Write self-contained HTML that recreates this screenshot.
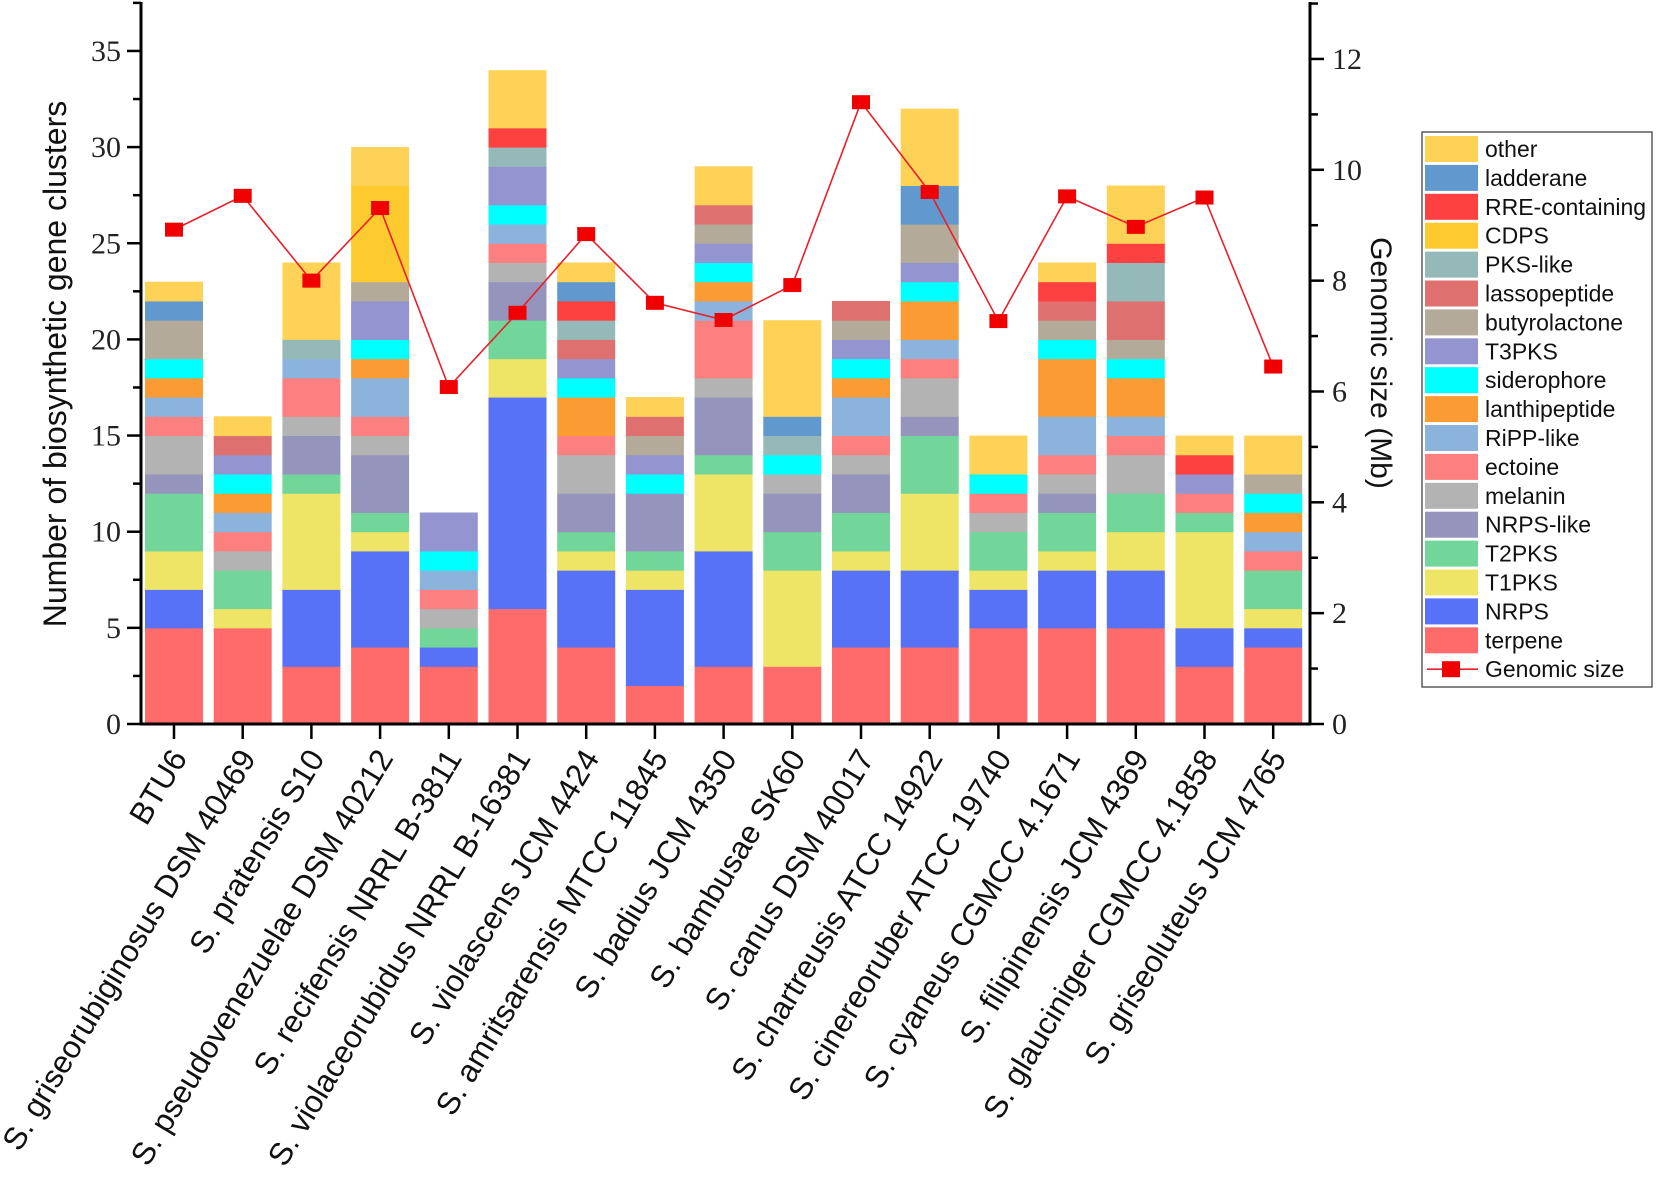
<!DOCTYPE html>
<html><head><meta charset="utf-8"><style>
html,body{margin:0;padding:0;background:#fff;}
svg{display:block;}
text{font-family:"Liberation Sans",Arial,sans-serif;}
.num{font-family:"Liberation Serif",serif;font-size:30px;fill:#222;}
</style></head><body>
<svg id="chart" width="1656" height="1196" viewBox="0 0 1656 1196" xmlns="http://www.w3.org/2000/svg">
<g id="bars"></g>
<g id="line"></g>
<g id="axes"></g>
<g id="xlabels"></g>
<text transform="translate(66,364) rotate(-90)" text-anchor="middle" font-size="32" fill="#111">Number of biosynthetic gene clusters</text>
<text transform="translate(1371,363) rotate(90)" text-anchor="middle" font-size="30" fill="#111">Genomic size (Mb)</text>
<g id="legend"></g>
</svg>
<script>
const strains = ["BTU6","S. griseorubiginosus DSM 40469","S. pratensis S10","S. pseudovenezuelae DSM 40212","S. recifensis NRRL B-3811","S. violaceorubidus NRRL B-16381","S. violascens JCM 4424","S. amritsarensis MTCC 11845","S. badius JCM 4350","S. bambusae SK60","S. canus DSM 40017","S. chartreusis ATCC 14922","S. cinereoruber ATCC 19740","S. cyaneus CGMCC 4.1671","S. filipinensis JCM 4369","S. glauciniger CGMCC 4.1858","S. griseoluteus JCM 4765"];
const types = ["terpene","NRPS","T1PKS","T2PKS","NRPS-like","melanin","ectoine","RiPP-like","lanthipeptide","siderophore","T3PKS","butyrolactone","lassopeptide","PKS-like","CDPS","RRE-containing","ladderane","other"];
const colors = ["#ff6b6b","#5772f7","#eee466","#72d69a","#9494bc","#b3b3b3","#fc8080","#8cb3dc","#fb9b33","#00ffff","#9494d0","#b3aa9a","#df7070","#95b8b8","#fdca30","#fd4040","#6198cd","#fdd257"];
// counts per strain, in order of types
const terpene      = [5,5,3,4,3,6,4,2,3,3,4,4,5,5,5,3,4];
const nrps         = [2,0,4,5,1,11,4,5,6,0,4,4,2,3,3,2,1];
const t1pks        = [2,1,5,1,0,2,1,1,4,5,1,4,1,1,2,5,1];
const t2pks        = [3,2,1,1,1,2,1,1,1,2,2,3,2,2,2,1,2];
const nrpsLike     = [1,0,2,3,0,2,2,3,3,2,2,1,0,1,0,0,0];
const melanin      = [2,1,1,1,1,1,2,0,1,1,1,2,1,1,2,0,0];
const ectoine      = [1,1,2,1,1,1,1,0,3,0,1,1,1,1,1,1,1];
const ripp         = [1,1,1,2,1,1,0,0,1,0,2,1,0,2,1,0,1];
const lanthi       = [1,1,0,1,0,0,2,0,1,0,1,2,0,3,2,0,1];
const sidero       = [1,1,0,1,1,1,1,1,1,1,1,1,1,1,1,0,1];
const t3pks        = [0,1,0,2,2,2,1,1,1,0,1,1,0,0,0,1,0];
const butyro       = [2,0,0,1,0,0,0,1,1,0,1,2,0,1,1,0,1];
const lasso        = [0,1,0,0,0,0,1,1,1,0,1,0,0,1,2,0,0];
const pksLike      = [0,0,1,0,0,1,1,0,0,1,0,0,0,0,2,0,0];
const cdps         = [0,0,0,5,0,0,0,0,0,0,0,0,0,0,0,0,0];
const rre          = [0,0,0,0,0,1,1,0,0,0,0,0,0,1,1,1,0];
const ladderane    = [1,0,0,0,0,0,1,0,0,1,0,2,0,0,0,0,0];
const other        = [1,1,4,2,0,3,1,1,2,5,0,4,2,1,3,1,2];
const series = [terpene,nrps,t1pks,t2pks,nrpsLike,melanin,ectoine,ripp,lanthi,sidero,t3pks,butyro,lasso,pksLike,cdps,rre,ladderane,other];
const genomeSize = [8.92,9.53,8.0,9.31,6.08,7.42,8.84,7.6,7.29,7.92,11.22,9.6,7.27,9.52,8.97,9.5,6.45];
const leftTicks = [0,5,10,15,20,25,30,35];
const rightTicks = [0,2,4,6,8,10,12];

const NS="http://www.w3.org/2000/svg";
function mk(tag,attrs,parent){const e=document.createElementNS(NS,tag);for(const k in attrs)e.setAttribute(k,attrs[k]);parent.appendChild(e);return e;}
const X0=141, X1=1310, Y0=724, YTOP=2;
const yL=v=>Y0-v*19.23;
const yR=v=>Y0-v*55.42;
const xC=i=>174+i*68.7;
const BW=58;

const gb=document.getElementById('bars');
strains.forEach((s,i)=>{
  let acc=0;
  series.forEach((arr,k)=>{
    const v=arr[i]; if(!v) return;
    const r=mk('rect',{x:xC(i)-BW/2,y:yL(acc+v),width:BW,height:yL(acc)-yL(acc+v)+0.5,fill:colors[k]},gb);
    
    
    acc+=v;
  });
});

const gl=document.getElementById('line');
const pts=genomeSize.map((v,i)=>xC(i)+','+yR(v)).join(' ');
const pl=mk('polyline',{points:pts,fill:'none',stroke:'#e8202a','stroke-width':1.6},gl);


genomeSize.forEach((v,i)=>{
  const m=mk('rect',{x:xC(i)-9,y:yR(v)-7,width:18,height:14,fill:'#f00000'},gl);
  
  
});

const ga=document.getElementById('axes');
mk('line',{x1:X0,y1:YTOP,x2:X0,y2:Y0,stroke:'#000','stroke-width':3},ga);
mk('line',{x1:X1,y1:YTOP,x2:X1,y2:Y0,stroke:'#000','stroke-width':3},ga);
mk('line',{x1:X0-1,y1:Y0,x2:X1+1,y2:Y0,stroke:'#000','stroke-width':3},ga);
for(let v=0;v<=37.5;v+=2.5){const maj=v%5===0;mk('line',{x1:X0,y1:yL(v),x2:X0-(maj?14:8),y2:yL(v),stroke:'#000','stroke-width':2.5},ga);}
leftTicks.forEach(v=>{const t=mk('text',{x:X0-20,y:yL(v)+10,'text-anchor':'end',class:'num'},ga);t.textContent=v;
  });
for(let v=0;v<=13;v+=1){const maj=v%2===0;mk('line',{x1:X1,y1:yR(v),x2:X1+(maj?14:8),y2:yR(v),stroke:'#000','stroke-width':2.5},ga);}
rightTicks.forEach(v=>{const t=mk('text',{x:X1+22,y:yR(v)+10,'text-anchor':'start',class:'num'},ga);t.textContent=v;
  });
strains.forEach((s,i)=>mk('line',{x1:xC(i),y1:Y0,x2:xC(i),y2:Y0+15,stroke:'#000','stroke-width':2.5},ga));

const gx=document.getElementById('xlabels');
strains.forEach((s,i)=>{
  const t=mk('text',{transform:`translate(${xC(i)+14},758) rotate(-59)`,'text-anchor':'end','font-size':31.5,fill:'#111'},gx);
  t.textContent=s;
  
  
});

const lg=document.getElementById('legend');
mk('rect',{x:1422,y:132,width:230,height:555,fill:'#fff',stroke:'#333','stroke-width':1.2},lg);
const order=types.slice().reverse();
order.forEach((name,j)=>{
  const k=types.indexOf(name);
  const cy=149+j*28.9;
  const e=mk('g',{},lg);
  
  
  mk('rect',{x:1425,y:cy-13,width:53,height:26,fill:colors[k]},e);
  const t=mk('text',{x:1485,y:cy+8,'font-size':23,fill:'#111'},e);t.textContent=name;
});
const cy=149+18*28.9;
const e=mk('g',{},lg);


mk('line',{x1:1427,y1:cy,x2:1478,y2:cy,stroke:'#e8202a','stroke-width':1.6},e);
mk('rect',{x:1442,y:cy-8,width:18,height:16,fill:'#f00000'},e);
const t2=mk('text',{x:1485,y:cy+8,'font-size':23,fill:'#111'},e);t2.textContent='Genomic size';
</script>
</body></html>
